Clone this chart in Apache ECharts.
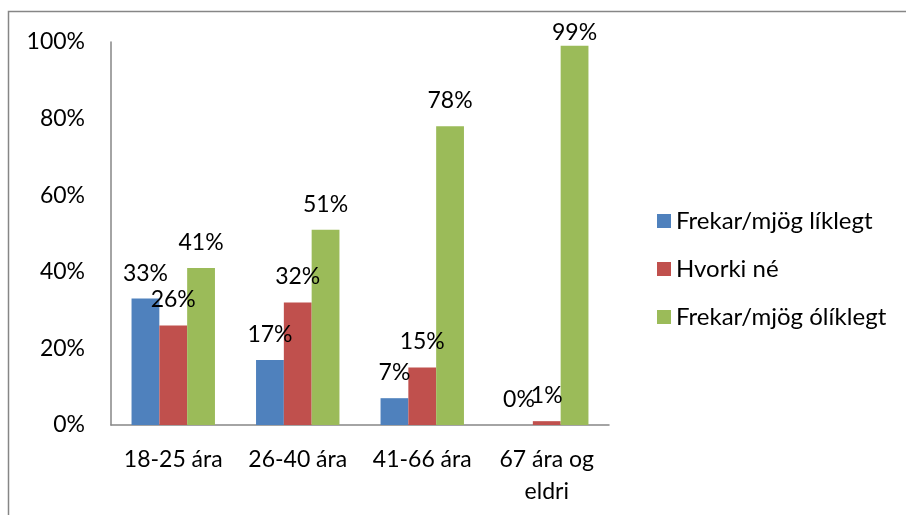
<!DOCTYPE html>
<html>
<head>
<meta charset="utf-8">
<script src="https://cdn.jsdelivr.net/npm/echarts@6/dist/echarts.min.js"></script>
<style>
  html, body { margin: 0; padding: 0; background: #fff; }
  #chart { width: 906px; height: 515px; }
</style>
</head>
<body>
<div id="chart"></div>
<script>
const categories = ['18-25 ára', '26-40 ára', '41-66 ára', '67 ára og\neldri']
const seriesNames = ['Frekar/mjög líklegt', 'Hvorki né', 'Frekar/mjög ólíklegt']
const likely = [33, 17, 7, 0]
const neither = [26, 32, 15, 1]
const unlikely = [41, 51, 78, 99]
const yTicks = [0, 20, 40, 60, 80, 100]

const colors = ['#4F81BD', '#C0504D', '#9BBB59']
const fontFamily = 'Lato, "Open Sans", sans-serif'

const chart = echarts.init(document.getElementById('chart'))

function makeSeries(name, data, i) {
  return {
    name: name,
    type: 'bar',
    // labels near the top of the plot are pushed down like in Excel
    data: data.map(function (v) {
      return v >= 95 ? { value: v, label: { distance: 2 } } : v
    }),
    barGap: '0%',
    barCategoryGap: '33%',
    itemStyle: { color: colors[i] },
    label: {
      show: true,
      position: 'top',
      distance: 14,
      formatter: '{c}%',
      color: '#000',
      fontSize: 23,
      fontFamily: fontFamily
    }
  }
}

const option = {
  animation: false,
  backgroundColor: '#fff',
  graphic: [{
    type: 'rect',
    shape: { x: 8.5, y: 11.5, width: 1000, height: 600 },
    style: { fill: 'none', stroke: '#868686', lineWidth: 1.5 },
    silent: true
  }],
  grid: { left: 111, right: 297, top: 42, bottom: 90 },
  legend: {
    orient: 'vertical',
    left: 652,
    top: 204,
    itemWidth: 14,
    itemHeight: 14,
    itemGap: 24,
    icon: 'rect',
    textStyle: { fontSize: 24, color: '#000', fontFamily: fontFamily },
    data: seriesNames
  },
  xAxis: {
    type: 'category',
    data: categories,
    axisLine: { lineStyle: { color: '#868686', width: 1.5 } },
    axisTick: { show: false },
    axisLabel: {
      color: '#000',
      fontSize: 23,
      fontFamily: fontFamily,
      margin: 19,
      lineHeight: 32,
      interval: 0
    }
  },
  yAxis: {
    type: 'value',
    min: yTicks[0],
    max: yTicks[yTicks.length - 1],
    interval: 20,
    axisLine: { show: true, lineStyle: { color: '#868686', width: 1.5 } },
    axisTick: { show: false },
    splitLine: { show: false },
    axisLabel: {
      color: '#000',
      fontSize: 23,
      fontFamily: fontFamily,
      margin: 26,
      formatter: '{value}%'
    }
  },
  series: [
    makeSeries(seriesNames[0], likely, 0),
    makeSeries(seriesNames[1], neither, 1),
    makeSeries(seriesNames[2], unlikely, 2)
  ]
}

chart.setOption(option)
window.addEventListener('resize', function () {
  chart.resize()
})
</script>
</body>
</html>
